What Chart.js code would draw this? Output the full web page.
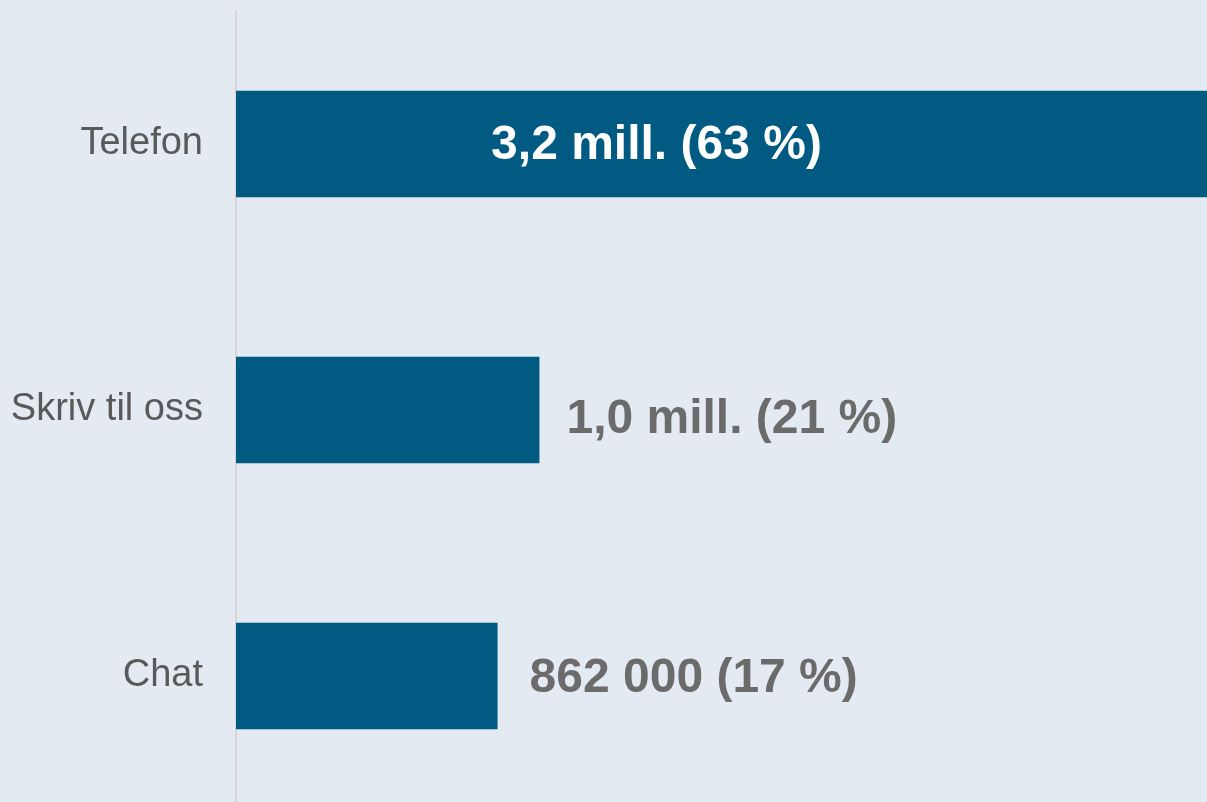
<!DOCTYPE html>
<html>
<head>
<meta charset="utf-8">
<script src="https://cdn.jsdelivr.net/npm/chart.js@4.4.0/dist/chart.umd.min.js"></script>
<style>
  html, body { margin: 0; padding: 0; background: #e3eaf2; overflow: hidden; }
  #wrap { width: 1207px; height: 809px; }
</style>
</head>
<body>
<div id="wrap"><canvas id="chart"></canvas></div>
<script>
// data (values in millions of contacts)
const categories = ['Telefon', 'Skriv til oss', 'Chat'];
const contacts = [3.2, 1.0, 0.862];
const valueLabels = ['3,2 mill. (63 %)', '1,0 mill. (21 %)', '862 000 (17 %)'];

const BAR = '#005a82';
const FONT = '"Liberation Sans", Arial, sans-serif';

// draws the value labels: inside the first (long) bar, right of the others
const valueLabelPlugin = {
  id: 'valueLabels',
  afterDatasetsDraw(chart, args, opts) {
    const { ctx } = chart;
    const meta = chart.getDatasetMeta(0);
    ctx.save();
    ctx.font = 'bold 48px ' + FONT;
    ctx.textBaseline = 'middle';
    meta.data.forEach((bar, i) => {
      const off = opts.offsets[i];
      if (i === 0) {
        ctx.fillStyle = '#ffffff';
        ctx.textAlign = 'center';
        ctx.fillText(valueLabels[i], (bar.base + bar.x) / 2 + off.dx, bar.y + off.dy);
      } else {
        ctx.fillStyle = '#6b6b6b';
        ctx.textAlign = 'left';
        ctx.fillText(valueLabels[i], bar.x + off.dx, bar.y + off.dy);
      }
    });
    ctx.restore();
  }
};

new Chart(document.getElementById('chart'), {
  type: 'bar',
  data: {
    labels: categories,
    datasets: [{
      data: contacts,
      backgroundColor: BAR,
      borderWidth: 0,
      barPercentage: 0.4,
      categoryPercentage: 1
    }]
  },
  options: {
    indexAxis: 'y',
    responsive: true,
    maintainAspectRatio: false,
    animation: false,
    layout: { padding: { top: 11, bottom: 0, left: 0, right: 0 } },
    scales: {
      x: {
        display: false,
        min: 0,
        max: 3.2
      },
      y: {
        afterFit: (scale) => {
          scale.width = 236;
          scale.paddingTop = 0;
          scale.paddingBottom = 0;
        },
        grid: { display: false },
        border: { display: true, color: '#d6d6d6', width: 2 },
        ticks: {
          padding: 25,
          color: '#595959',
          font: { family: FONT, size: 38 }
        }
      }
    },
    plugins: {
      legend: { display: false },
      tooltip: { enabled: false },
      valueLabels: {
        offsets: [{ dx: -65, dy: 2 }, { dx: 27, dy: 10 }, { dx: 32, dy: 3 }]
      }
    }
  },
  plugins: [valueLabelPlugin]
});
</script>
</body>
</html>
